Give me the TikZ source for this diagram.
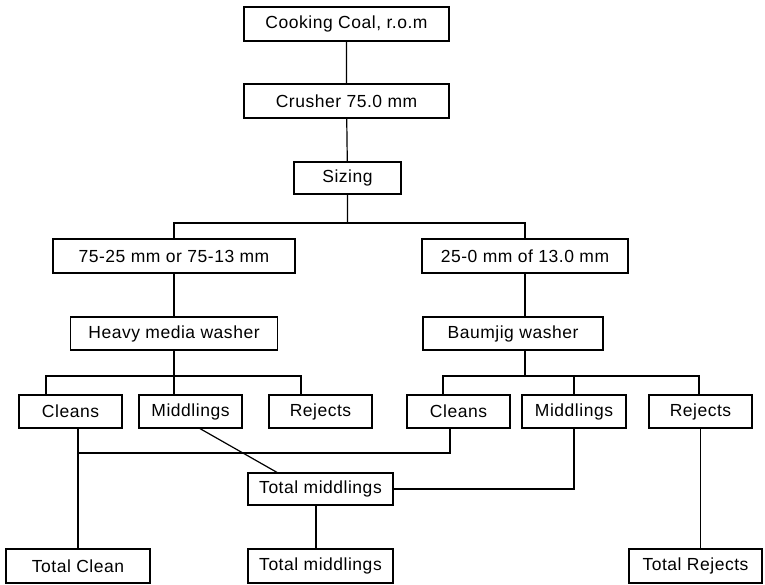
\documentclass[tikz,border=0pt]{standalone}
\usepackage{fontspec}
\setmainfont{Liberation Sans}[LetterSpace=3]
\begin{document}
\begin{tikzpicture}[x=1pt, y=-1pt, line width=1.2pt,
    every node/.style={draw, rectangle, fill=white, inner sep=0pt, minimum height=33, font=\fontsize{17.5}{20}\selectfont}]
    \useasboundingbox (0,0) rectangle (765,585);
    \node (coal) at (346.5,24) [minimum width=205, minimum height=34] {Cooking Coal, r.o.m};
    \node (crusher) at (346.5,101) [minimum width=205, minimum height=34] {Crusher 75.0 mm};
    \node (sizing) at (347.5,178) [minimum width=107, minimum height=32] {Sizing};
    \node (coarse) at (174,256) [minimum width=242, minimum height=34] {75-25 mm or 75-13 mm};
    \node (fine) at (525,256) [minimum width=206, minimum height=34] {25-0 mm of 13.0 mm};
    \node (hmw) at (174,333.5) [minimum width=207] {Heavy media washer};
    \node (baum) at (513,333.5) [minimum width=180] {Baumjig washer};
    \foreach \n/\x/\w/\t in {clL/70.5/103/Cleans, midL/190.5/103/Middlings, rejL/320.5/103/Rejects,
        clR/458.5/103/Cleans, midR/574/104/Middlings, rejR/700.5/103/Rejects} {
        \node (\n) at (\x,411.5) [minimum width=\w] {\t};
    }
    \node (totmid) at (320.5,489) [minimum width=145, minimum height=32] {Total middlings};
    \node (totclean) at (78,566) [minimum width=144, minimum height=34] {Total Clean};
    \node (totmidB) at (320.5,566) [minimum width=145, minimum height=34] {Total middlings};
    \node (totrej) at (695.5,566) [minimum width=133, minimum height=34] {Total Rejects};
    % crushing and sizing
    \coordinate (split) at (347.5,223);
    \draw (coal) -- (crusher) -- (sizing) -- (split);
    \draw (coarse) |- (split) -| (fine);
    \draw (coarse) -- (hmw);
    \draw (fine.south) -- (fine.south |- baum.north);
    % washer products
    \coordinate (hl) at (46,376);
    \coordinate (hr) at (301,376);
    \draw (hl |- clL.north) -- (hl) -- (hr) -- (hr |- rejL.north);
    \draw (hmw.south) -- (hmw.south |- midL.north);
    \coordinate (bl) at (443,376);
    \coordinate (br) at (699,376);
    \draw (bl |- clR.north) -- (bl) -- (br) -- (br |- rejR.north);
    \draw (fine.south |- baum.south) -- (fine.south |- bl);
    \draw (midR.north |- bl) -- (midR.north);
    % totals
    \coordinate (cj) at (78,453);
    \draw (totclean.north |- clL.south) -- (totclean.north);
    \draw (cj) -| ([xshift=-8.5]clR.south);
    \draw ([xshift=9.5]midL.south) -- ([xshift=-43.5]totmid.north);
    \draw (midR) |- (totmid);
    \draw ([xshift=-4.5]totmid.south) -- ([xshift=-4.5]totmidB.north);
    \draw (rejR.south) -- (rejR.south |- totrej.north);
\end{tikzpicture}
\end{document}
